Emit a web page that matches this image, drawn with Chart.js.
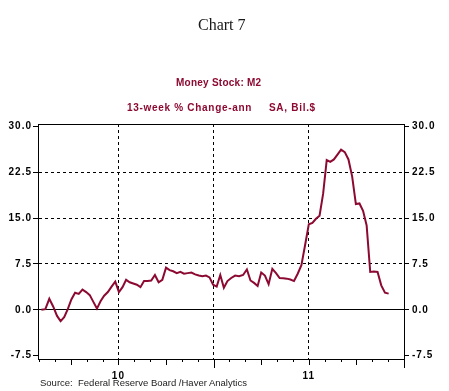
<!DOCTYPE html>
<html>
<head>
<meta charset="utf-8">
<script src="https://cdn.jsdelivr.net/npm/chart.js@4.4.0/dist/chart.umd.min.js"></script>
<style>
  body { margin: 0; background: #fff; }
  #wrap { position: relative; width: 449px; height: 391px; overflow: hidden; }
  canvas { position: absolute; left: 0; top: 0; }
  .txt { position: absolute; white-space: pre; line-height: 1; }
  #title { left: 198px; top: 15.5px; font: 16px "Liberation Serif", "Times New Roman", serif; color: #1a1a1a; }
  .sub { font: bold 10px "Liberation Sans", Arial, sans-serif; color: #8c0a32; }
  #sub1 { left: 176px; top: 76.5px; letter-spacing: 0.25px; }
  #sub2 { left: 127px; top: 101.5px; letter-spacing: 0.7px; }
  #sub3 { left: 269px; top: 101.5px; letter-spacing: 0.7px; }
  #source { left: 40px; top: 377px; font: 9.5px "Liberation Sans", Arial, sans-serif; color: #222; }
</style>
</head>
<body>
<div id="wrap">
  <canvas id="chart" width="449" height="391"></canvas>
  <div class="txt" id="title">Chart 7</div>
  <div class="txt sub" id="sub1">Money Stock: M2</div>
  <div class="txt sub" id="sub2">13-week % Change-ann</div>
  <div class="txt sub" id="sub3">SA, Bil.$</div>
  <div class="txt" id="source">Source:  Federal Reserve Board /Haver Analytics</div>
</div>
<script>
// weekly observations
const weekEnding = [
  '2010-02-05','2010-02-12','2010-02-19','2010-02-26',
  '2010-03-05','2010-03-12','2010-03-19','2010-03-26',
  '2010-04-02','2010-04-09','2010-04-16','2010-04-23','2010-04-30',
  '2010-05-07','2010-05-14','2010-05-21','2010-05-28',
  '2010-06-04','2010-06-11','2010-06-18','2010-06-25',
  '2010-07-02','2010-07-09','2010-07-16','2010-07-23','2010-07-30',
  '2010-08-06','2010-08-13','2010-08-20','2010-08-27',
  '2010-09-03','2010-09-10','2010-09-17','2010-09-24',
  '2010-10-01','2010-10-08','2010-10-15','2010-10-22','2010-10-29',
  '2010-11-05','2010-11-12','2010-11-19','2010-11-26',
  '2010-12-03','2010-12-10','2010-12-17','2010-12-24','2010-12-31',
  '2011-01-07','2011-01-14','2011-01-21','2011-01-28',
  '2011-02-04','2011-02-11','2011-02-18','2011-02-25',
  '2011-03-04','2011-03-11','2011-03-18','2011-03-25',
  '2011-04-01','2011-04-08','2011-04-15','2011-04-22','2011-04-29',
  '2011-05-06','2011-05-13','2011-05-20','2011-05-27',
  '2011-06-03','2011-06-10','2011-06-17','2011-06-24',
  '2011-07-01','2011-07-08','2011-07-15','2011-07-22','2011-07-29',
  '2011-08-05','2011-08-12','2011-08-19','2011-08-26',
  '2011-09-02','2011-09-09','2011-09-16','2011-09-23','2011-09-30',
  '2011-10-07','2011-10-14','2011-10-21','2011-10-28',
  '2011-11-04','2011-11-11','2011-11-18','2011-11-25',
  '2011-12-02'
];

// 13-week % change, annualized
const m2Growth = [
  0.0, 0.1, 1.8, 0.5, -1.0, -1.85, -1.2, 0.1, 1.7, 2.8,
  2.6, 3.3, 2.9, 2.4, 1.3, 0.2, 1.4, 2.3, 2.9, 3.8,
  4.6, 2.9, 3.7, 4.9, 4.5, 4.3, 4.1, 3.7, 4.7, 4.7,
  4.8, 5.7, 4.5, 4.9, 6.9, 6.5, 6.3, 6.0, 6.2, 5.9,
  6.0, 6.1, 5.8, 5.6, 5.5, 5.6, 5.3, 4.1, 3.8, 5.7,
  3.6, 4.7, 5.2, 5.6, 5.5, 5.7, 6.6, 4.8, 4.4, 3.9,
  6.1, 5.6, 4.2, 6.7, 6.0, 5.2, 5.15, 5.1, 4.95, 4.7,
  5.9, 7.3, 10.6, 14.0, 14.2, 14.9, 15.4, 19.0, 24.5, 24.2,
  24.6, 25.4, 26.2, 25.8, 24.6, 21.8, 17.3, 17.4, 16.2, 13.8,
  6.2, 6.25, 6.2, 4.0, 2.8, 2.65
];

// x axis: months since Jan 2010
const monthTicks = [1, 2, 3, 4, 5, 6, 7, 8, 9, 10, 11, 12, 13, 14, 15, 16, 17, 18, 19, 20, 21, 22, 23, 24];
const gridMonths = [6, 12, 18];
const yearTicks = [6, 18];
const yearLabels = ['10', '11'];

const yTicks = [-7.5, 0, 7.5, 15, 22.5, 30];
const dashedLevels = [7.5, 15, 22.5];

const maroon = '#8c0a32';
const tickFont = { family: '"Liberation Sans", Arial, sans-serif', size: 10, weight: 'bold' };

function toMonths(d) {
  const [y, m, day] = d.split('-').map(Number);
  const daysInMonth = new Date(y, m, 0).getDate();
  return (y - 2010) * 12 + (m - 1) + (day - 1) / daysInMonth;
}

const spacedText = {
  id: 'spacedText',
  beforeDraw(chart) { chart.ctx.letterSpacing = '1px'; }
};

// box around the plot + month tick marks below it
const frameAndTicks = {
  id: 'frameAndTicks',
  afterDraw(chart) {
    const { ctx, chartArea: a, scales: { x } } = chart;
    ctx.save();
    ctx.strokeStyle = '#000';
    ctx.lineWidth = 1;
    ctx.strokeRect(a.left + 0.5, a.top + 0.5, a.right - a.left, a.bottom - a.top);
    monthTicks.forEach(m => {
      const px = Math.round(x.getPixelForValue(m)) + 0.5;
      const len = m % 12 === 0 ? 9 : (m % 3 === 0 ? 6 : 3);
      ctx.beginPath();
      ctx.moveTo(px, a.bottom);
      ctx.lineTo(px, a.bottom + len);
      ctx.stroke();
    });
    ctx.restore();
  }
};

const yAxisBase = {
  min: -8.05,
  max: 30.4,
  afterBuildTicks: s => { s.ticks = yTicks.map(v => ({ value: v })); },
  border: { color: '#000' },
  ticks: { color: '#000', font: tickFont, callback: v => v.toFixed(1) }
};

new Chart(document.getElementById('chart'), {
  type: 'line',
  data: {
    datasets: [{
      label: 'M2',
      data: weekEnding.map((d, i) => ({ x: toMonths(d), y: m2Growth[i] })),
      borderColor: maroon,
      borderWidth: 2,
      pointRadius: 0,
      tension: 0,
      fill: false
    }]
  },
  options: {
    responsive: false,
    animation: false,
    devicePixelRatio: 1,
    layout: { padding: { top: 124, left: 0, right: 0, bottom: 0 } },
    plugins: { legend: { display: false }, title: { display: false }, tooltip: { enabled: false } },
    scales: {
      x: {
        type: 'linear',
        min: 0.93,
        max: 24,
        afterBuildTicks: s => { s.ticks = monthTicks.map(v => ({ value: v })); },
        afterFit: s => { s.height = 32; },
        grid: {
          color: c => (c.tick && gridMonths.includes(c.tick.value)) ? '#000' : 'transparent',
          tickColor: 'transparent',
          tickLength: 8
        },
        border: { color: '#000', dash: [3, 3] },
        ticks: {
          autoSkip: false,
          maxRotation: 0,
          padding: 3,
          color: '#000',
          font: tickFont,
          callback: v => {
            const k = yearTicks.indexOf(v);
            return k >= 0 ? yearLabels[k] : '';
          }
        }
      },
      y: {
        ...yAxisBase,
        position: 'left',
        afterFit: s => { s.width = 38; },
        grid: {
          color: c => (c.tick && (c.tick.value === 0 || dashedLevels.includes(c.tick.value))) ? '#000' : 'transparent',
          tickColor: '#000',
          tickLength: 5
        },
        border: { color: '#000', dash: c => (c.tick && c.tick.value === 0) ? [] : [3, 3] },
        ticks: { ...yAxisBase.ticks, padding: 1 }
      },
      y2: {
        ...yAxisBase,
        position: 'right',
        display: true,
        afterFit: s => { s.width = 45; },
        grid: { drawOnChartArea: false, tickColor: '#000', tickLength: 5 },
        ticks: { ...yAxisBase.ticks, padding: 3 }
      }
    }
  },
  plugins: [spacedText, frameAndTicks]
});
</script>
</body>
</html>
